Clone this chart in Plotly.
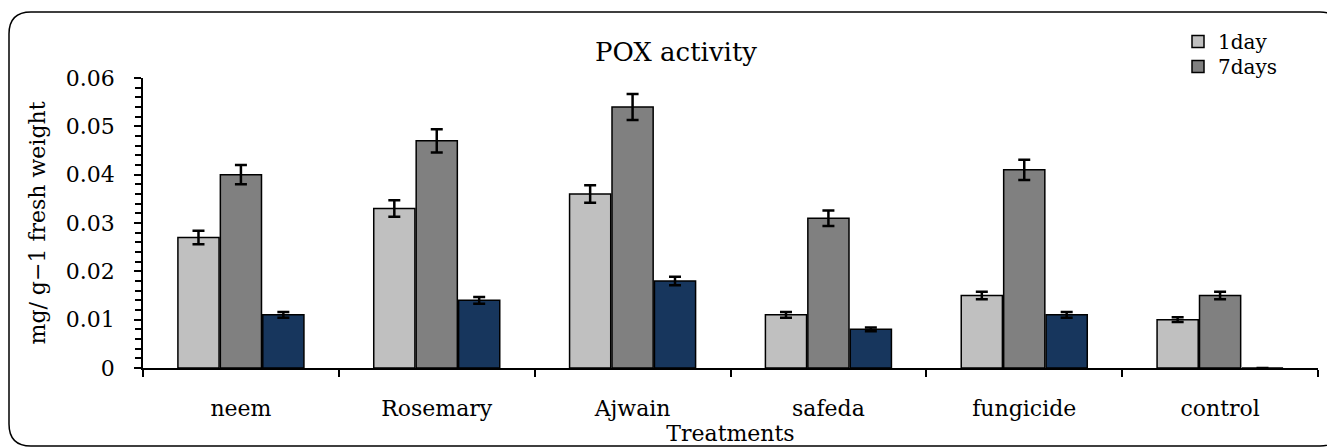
import plotly.graph_objects as go

categories = ["neem", "Rosemary", "Ajwain", "safeda", "fungicide", "control"]
day1 = [0.027, 0.033, 0.036, 0.011, 0.015, 0.010]
day7 = [0.040, 0.047, 0.054, 0.031, 0.041, 0.015]
third = [0.011, 0.014, 0.018, 0.008, 0.011, 0.0]
err1 = [0.0014, 0.0017, 0.0018, 0.0006, 0.0008, 0.0005]
err7 = [0.0020, 0.0024, 0.0027, 0.0016, 0.0021, 0.0008]
err3 = [0.0006, 0.0007, 0.0009, 0.0004, 0.0006, 0.0]

# page has an 8px body margin: figure sized to fill the rest of the window
OFF = 8
W, H = 1335 - OFF, 447 - OFF
L, R, T, B = 143 - OFF, 17, 78 - OFF, 79
pw, ph = W - L - R, H - T - B

def px(x):  # x in screen pixels -> paper
    return (x - OFF - L) / pw

def py(y):  # y in screen pixels -> paper
    return 1 - (y - OFF - T) / ph

FONT = "DejaVu Serif"

fig = go.Figure()
err_style = dict(type="data", thickness=2.5, width=6, color="black")
fig.add_trace(go.Bar(x=categories, y=day1, name="1day", legend="legend",
                     marker=dict(color="#c0c0c0", line=dict(color="black", width=1.5)),
                     error_y=dict(array=err1, **err_style)))
fig.add_trace(go.Bar(x=categories, y=day7, name="7days", legend="legend2",
                     marker=dict(color="#808080", line=dict(color="black", width=1.5)),
                     error_y=dict(array=err7, **err_style)))
fig.add_trace(go.Bar(x=categories, y=third, name="", showlegend=False,
                     marker=dict(color="#17365d", line=dict(color="black", width=1.5)),
                     error_y=dict(array=err3, **err_style)))

# rounded border
x0, x1 = px(9), px(1342)
y0, y1 = py(12), py(446)
rx, ry = 22 / pw, 22 / ph
path = (f"M {x0+rx},{y0} L {x1-rx},{y0} Q {x1},{y0} {x1},{y0-ry} "
        f"L {x1},{y1+ry} Q {x1},{y1} {x1-rx},{y1} L {x0+rx},{y1} Q {x0},{y1} {x0},{y1+ry} "
        f"L {x0},{y0-ry} Q {x0},{y0} {x0+rx},{y0} Z")
fig.add_shape(type="path", path=path, xref="paper", yref="paper", line=dict(color="black", width=1.5))

leg_common = dict(xanchor="left", yanchor="top", bgcolor="rgba(0,0,0,0)",
                  font=dict(size=20), itemwidth=30, tracegroupgap=0)

fig.update_layout(
    width=W, height=H,
    margin=dict(l=L, r=R, t=T, b=B, autoexpand=False),
    paper_bgcolor="white", plot_bgcolor="white",
    barmode="group", bargap=0.35, bargroupgap=0.03,
    font=dict(family=FONT, color="black", size=22),
    title=dict(text="POX activity", x=(676 - OFF) / W, xref="container", xanchor="center",
               y=1 - (52 - OFF) / H, yref="container", yanchor="middle", font=dict(size=26)),
    legend=dict(x=px(1178), y=py(22), **leg_common),
    legend2=dict(x=px(1178), y=py(47), **leg_common),
    xaxis=dict(showline=True, linecolor="black", linewidth=1.5, ticks="outside", tickson="boundaries",
               ticklen=7, tickwidth=1.5, tickcolor="black", showgrid=False, automargin=False,
               ticklabelstandoff=20,
               title=dict(text="Treatments", standoff=2, font=dict(size=22)), tickfont=dict(size=22)),
    yaxis=dict(range=[0, 0.06], dtick=0.01, tickformat=".2~f", showline=True, linecolor="black", linewidth=1.5,
               ticks="outside", ticklen=7, tickwidth=1.5, tickcolor="black", showgrid=False, zeroline=False,
               automargin=False, ticklabelstandoff=15,
               minor=dict(dtick=0.002, ticks="outside", ticklen=6, tickwidth=1.5, tickcolor="black", showgrid=False),
               title=dict(text="mg/ g\u22121 fresh weight", standoff=14, font=dict(size=22)), tickfont=dict(size=22)),
)

fig.write_html("out.html")
